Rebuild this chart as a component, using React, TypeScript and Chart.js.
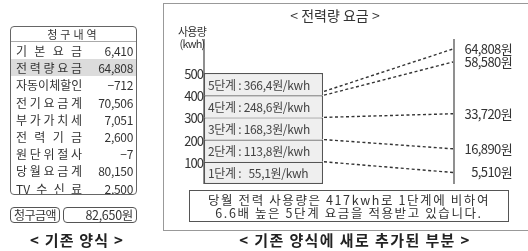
import React, { useEffect, useRef } from "react";
import { Chart, registerables } from "chart.js";

Chart.register(...registerables);

// ---- data ----
const billLabels = ["기본요금", "전력량요금", "자동이체할인", "전기요금계", "부가가치세", "전력기금", "원단위절사", "당월요금계", "TV 수신료"];
const billValues = ["6,410", "64,808", "−712", "70,506", "7,051", "2,600", "−7", "80,150", "2,500"];
const billTotal = "82,650원";

const tierNames = ["1단계", "2단계", "3단계", "4단계", "5단계"];
const tierRates = ["  55,1", "113,8", "168,3", "248,6", "366,4"];
const tierSizes = [100, 100, 100, 100, 100];
const yTicks = [100, 200, 300, 400, 500];
const connectorStartKwh = [100, 200, 300, 400, 417];
const cumulativeCost = [5510, 16890, 33720, 58580, 64808];

const FONT = '"Noto Sans CJK KR", "Noto Sans", sans-serif';

const overlayPlugin = {
  id: "overlay",
  afterDatasetsDraw(chart: any) {
    const { ctx, chartArea, scales } = chart;
    const y = scales.y;
    const yWon = scales.yWon;
    ctx.save();
    // axis lines
    ctx.strokeStyle = "#555";
    ctx.lineWidth = 1.3;
    ctx.beginPath();
    ctx.moveTo(chartArea.left, chartArea.top);
    ctx.lineTo(chartArea.left, chartArea.bottom);
    ctx.moveTo(chartArea.right, chartArea.top);
    ctx.lineTo(chartArea.right, chartArea.bottom);
    ctx.stroke();

    // y tick labels
    ctx.fillStyle = "#333";
    ctx.font = `13px ${FONT}`;
    (ctx as any).letterSpacing = "-1px";
    ctx.textAlign = "right";
    ctx.textBaseline = "middle";
    yTicks.forEach((t) => {
      ctx.fillText(String(t), chartArea.left - 1, y.getPixelForValue(t) + 1);
    });

    // tier labels
    let barRight = chartArea.left;
    (ctx as any).letterSpacing = "-0.3px";
    ctx.font = `12px ${FONT}`;
    ctx.textAlign = "left";
    ctx.fillStyle = "#444";
    tierNames.forEach((name, i) => {
      const el = chart.getDatasetMeta(i).data[0];
      if (!el) return;
      const props = el.getProps(["x", "y", "base", "width"], true);
      const left = props.x - props.width / 2;
      barRight = props.x + props.width / 2;
      const cy = (props.y + props.base) / 2;
      ctx.fillText(`${name} : ${tierRates[i]}원/kwh`, left + 4, cy + 1);
    });

    // dashed connectors
    ctx.strokeStyle = "#333";
    ctx.lineWidth = 1.4;
    ctx.setLineDash([3, 2.5]);
    cumulativeCost.forEach((cost, i) => {
      ctx.beginPath();
      ctx.moveTo(barRight + 1, y.getPixelForValue(connectorStartKwh[i]));
      ctx.lineTo(chartArea.right - 1, yWon.getPixelForValue(cost));
      ctx.stroke();
    });
    ctx.setLineDash([]);

    // cost labels
    ctx.font = `13px ${FONT}`;
    (ctx as any).letterSpacing = "-0.6px";
    ctx.textAlign = "right";
    ctx.fillStyle = "#333";
    cumulativeCost.forEach((cost) => {
      ctx.fillText(`${cost.toLocaleString("en-US")}원`, chartArea.right + 58, yWon.getPixelForValue(cost));
    });
    ctx.restore();
  },
};

function tokens(s: string): string[] {
  return s.match(/[A-Za-z]+|\S/g) || [];
}

export default function App() {
  const canvasRef = useRef<HTMLCanvasElement | null>(null);

  useEffect(() => {
    if (!canvasRef.current) return;
    const chart = new Chart(canvasRef.current, {
      type: "bar",
      data: {
        datasets: tierSizes.map((v, i) => ({
          label: tierNames[i],
          data: [{ x: 0.238, y: v }],
          backgroundColor: "#efefef",
          borderColor: "#555",
          borderWidth: { top: 1.2, left: 1.2, right: 1.2, bottom: i === 0 ? 1.2 : 0 },
          borderSkipped: false,
          barThickness: 119,
          inflateAmount: 0,
          stack: "tiers",
        })),
      } as any,
      options: {
        responsive: false,
        animation: false,
        devicePixelRatio: 1,
        layout: { padding: { left: 204, right: 74, top: 39, bottom: 67 } },
        plugins: { legend: { display: false }, tooltip: { enabled: false } },
        scales: {
          x: { type: "linear", min: 0, max: 1, display: false, stacked: true, offset: false },
          y: { type: "linear", min: 0, max: 653, display: false, stacked: true },
          yWon: { type: "linear", min: 0, max: 69600, display: false },
        },
      } as any,
      plugins: [overlayPlugin],
    });
    return () => chart.destroy();
  }, []);

  const rowH = 17.2;

  return (
    <div
      style={{
        position: "fixed",
        left: 0,
        top: 0,
        width: 528,
        height: 251,
        overflow: "hidden",
        background: "#fff",
        fontFamily: FONT,
        color: "#333",
      }}
    >
      {/* right panel frame */}
      <div
        style={{
          position: "absolute",
          left: 163,
          top: 3,
          width: 400,
          height: 228,
          border: "1.5px solid #999",
          boxSizing: "border-box",
        }}
      />
      <canvas
        ref={canvasRef}
        width={528}
        height={251}
        style={{ position: "absolute", left: 0, top: 0, width: 528, height: 251 }}
      />

      {/* left bill table */}
      <div
        style={{
          position: "absolute",
          left: 10,
          top: 26,
          width: 127,
          height: 169,
          border: "1px solid #666",
          borderRadius: 4,
          boxSizing: "border-box",
          overflow: "hidden",
          fontSize: 12,
        }}
      >
        <div
          style={{
            height: 14,
            lineHeight: "14px",
            borderBottom: "1px solid #aaa",
            textAlign: "center",
            fontSize: 11,
            letterSpacing: 3,
          }}
        >
          청구내역
        </div>
        {billLabels.map((lab, i) => (
          <div
            key={i}
            style={{
              height: rowH,
              display: "flex",
              alignItems: "center",
              justifyContent: "space-between",
              padding: "0 3px 0 5px",
              background: i === 1 ? "#dcdcdc" : "transparent",
            }}
          >
            <div style={{ width: 66, display: "flex", justifyContent: "space-between" }}>
              {tokens(lab).map((t, k) => (
                <span key={k}>{t}</span>
              ))}
            </div>
            <span style={{ letterSpacing: -0.3 }}>{billValues[i]}</span>
          </div>
        ))}
      </div>

      {/* total */}
      <div
        style={{
          position: "absolute",
          left: 10,
          top: 207,
          width: 50,
          height: 16,
          border: "1px solid #555",
          borderRadius: 4,
          boxSizing: "border-box",
          fontSize: 12,
          lineHeight: "14px",
          textAlign: "center",
          letterSpacing: -0.5,
        }}
      >
        청구금액
      </div>
      <div
        style={{
          position: "absolute",
          left: 63,
          top: 207,
          width: 74,
          height: 16,
          border: "1px solid #555",
          borderRadius: 4,
          boxSizing: "border-box",
          fontSize: 12.5,
          lineHeight: "14px",
          textAlign: "right",
          paddingRight: 3,
          letterSpacing: -0.3,
        }}
      >
        {billTotal}
      </div>

      {/* captions */}
      <div
        style={{
          position: "absolute",
          left: 10,
          width: 134,
          top: 231,
          textAlign: "center",
          fontWeight: "bold",
          fontSize: 15,
          lineHeight: "18px",
          letterSpacing: 1.2,
          color: "#222",
        }}
      >
        {"< 기존 양식 >"}
      </div>
      <div
        style={{
          position: "absolute",
          left: 200,
          width: 310,
          top: 231,
          textAlign: "center",
          fontWeight: "bold",
          fontSize: 15,
          lineHeight: "18px",
          letterSpacing: 1.4,
          color: "#222",
        }}
      >
        {"< 기존 양식에 새로 추가된 부분 >"}
      </div>

      {/* chart title */}
      <div
        style={{
          position: "absolute",
          left: 255,
          width: 160,
          top: 6,
          textAlign: "center",
          fontSize: 14,
          lineHeight: "18px",
        }}
      >
        {"< 전력량 요금 >"}
      </div>

      {/* axis title */}
      <div
        style={{
          position: "absolute",
          left: 172,
          width: 40,
          top: 25,
          textAlign: "center",
          fontSize: 11,
          lineHeight: "12px",
          letterSpacing: -0.8,
        }}
      >
        사용량
        <br />
        (kwh)
      </div>

      {/* note box */}
      <div
        style={{
          position: "absolute",
          left: 189,
          top: 190,
          width: 320,
          height: 32,
          border: "1px solid #555",
          boxSizing: "border-box",
          fontSize: 12.5,
          lineHeight: "13px",
          letterSpacing: 1.6,
          textAlign: "center",
          paddingTop: 2,
          whiteSpace: "nowrap",
        }}
      >
        당월 전력 사용량은 417kwh로 1단계에 비하여
        <br />
        6.6배 높은 5단계 요금을 적용받고 있습니다.
      </div>
    </div>
  );
}
